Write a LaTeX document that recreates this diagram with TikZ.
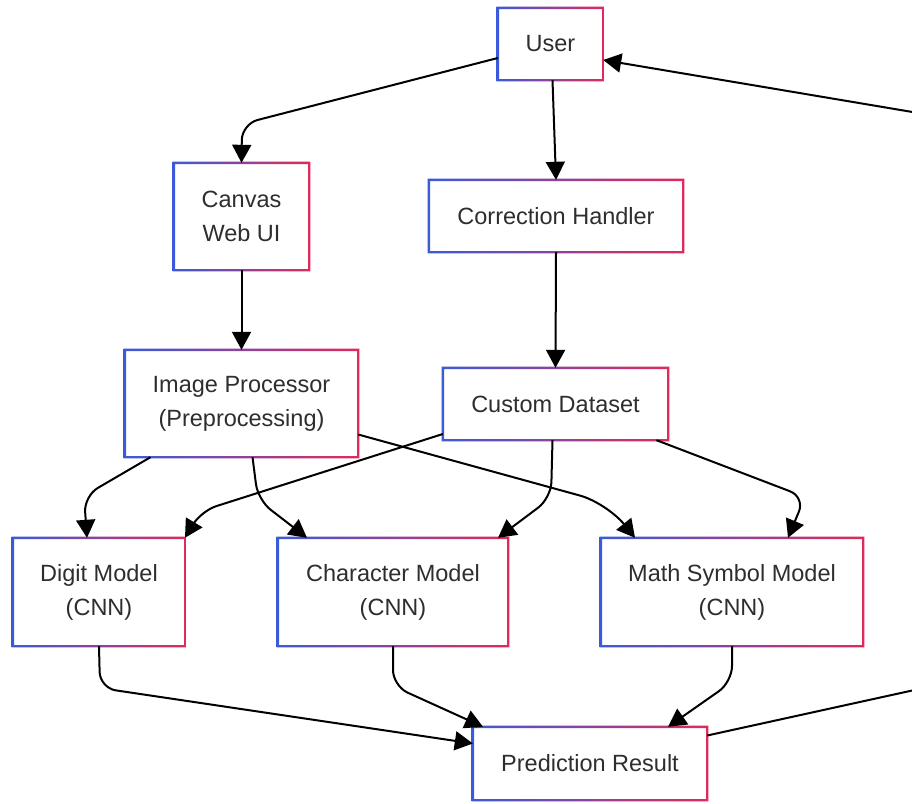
\documentclass[tikz,border=0pt]{standalone}
\usepackage{fontspec}
\setmainfont{Liberation Sans}
\usetikzlibrary{arrows.meta}
\definecolor{gblue}{HTML}{3A5BD9}
\definecolor{gred}{HTML}{E2295A}
\definecolor{txt}{HTML}{2E2E2E}
\newcommand{\gbox}[1]{\shade[left color=gblue,right color=gred,even odd rule]
  ([shift={(-1.2pt,1.2pt)}]#1.north west) rectangle ([shift={(1.2pt,-1.2pt)}]#1.south east)
  ([shift={(1.2pt,-1.2pt)}]#1.north west) rectangle ([shift={(-1.2pt,1.2pt)}]#1.south east);}
\tikzset{
  box/.style={fill=white,inner sep=0pt,align=center,text=txt,
    font=\fontsize{23.5}{34}\selectfont},
  conn/.style={line width=2pt,black,rounded corners=16pt,-{Triangle[length=18pt,width=19pt]}}
}
\begin{document}
\begin{tikzpicture}[x=1pt,y=-1pt]
\useasboundingbox (0,0) rectangle (912,803);
\clip (0,0) rectangle (912,803);
\fill[white] (0,0) rectangle (912,803);
% nodes
\node[box,minimum width=105pt,minimum height=72pt] (user) at (550.5,44) {User};
\node[box,minimum width=135pt,minimum height=107pt] (canvas) at (241.5,216.5) {Canvas\\Web UI};
\node[box,minimum width=254pt,minimum height=72pt] (corr) at (556,216) {Correction Handler};
\node[box,minimum width=233pt,minimum height=107pt] (ip) at (241.5,403.5) {Image Processor\\(Preprocessing)};
\node[box,minimum width=225pt,minimum height=72pt] (cd) at (555.5,404) {Custom Dataset};
\node[box,minimum width=172pt,minimum height=108pt] (digit) at (99,592) {Digit Model\\(CNN)};
\node[box,minimum width=230pt,minimum height=108pt] (char) at (393,592) {Character Model\\(CNN)};
\node[box,minimum width=262pt,minimum height=108pt] (math) at (732,592) {Math Symbol Model\\(CNN)};
\node[box,minimum width=234pt,minimum height=73pt] (pred) at (590,763.5) {Prediction Result};
\foreach \n in {user,canvas,corr,ip,cd,digit,char,math,pred} {\gbox{\n}}
% connectors
\draw[conn] ([yshift=-14pt]user.west) -- (242,124) -- (canvas.north);
\draw[conn] ([xshift=2pt]user.south) -- (corr.north);
\draw[conn] (canvas.south) -- (ip.north);
\draw[conn] (corr.south) -- (cd.north);
\draw[conn] ([xshift=-91pt]ip.south) -- (84,496) -- ([xshift=-12pt]digit.north);
\draw[conn] ([xshift=11pt]ip.south) -- (258,500) -- ([xshift=-86pt]char.north);
\draw[conn,rounded corners=28pt] ([yshift=-31pt]ip.east) -- (607,503) -- ([xshift=-97pt]math.north);
\draw[conn] ([yshift=-30pt]cd.west) -- (201,511) -- ([xshift=86pt]digit.north);
\draw[conn] ([xshift=-3pt]cd.south) -- (551,498) -- ([xshift=105pt]char.north);
\draw[conn] ([xshift=101pt]cd.south) -- (805,497) -- ([xshift=56pt]math.north);
\draw[conn] (digit.south) -- (100,688) -- ([yshift=20pt]pred.west);
\draw[conn] (char.south) -- (393,686) -- ([xshift=-107pt]pred.north);
\draw[conn] (math.south) -- (732,682) -- ([xshift=78pt]pred.north);
\draw[conn] ([yshift=28pt]pred.east) -- (960,680) -- (960,120) -- ([yshift=-16pt]user.east);
\end{tikzpicture}
\end{document}
